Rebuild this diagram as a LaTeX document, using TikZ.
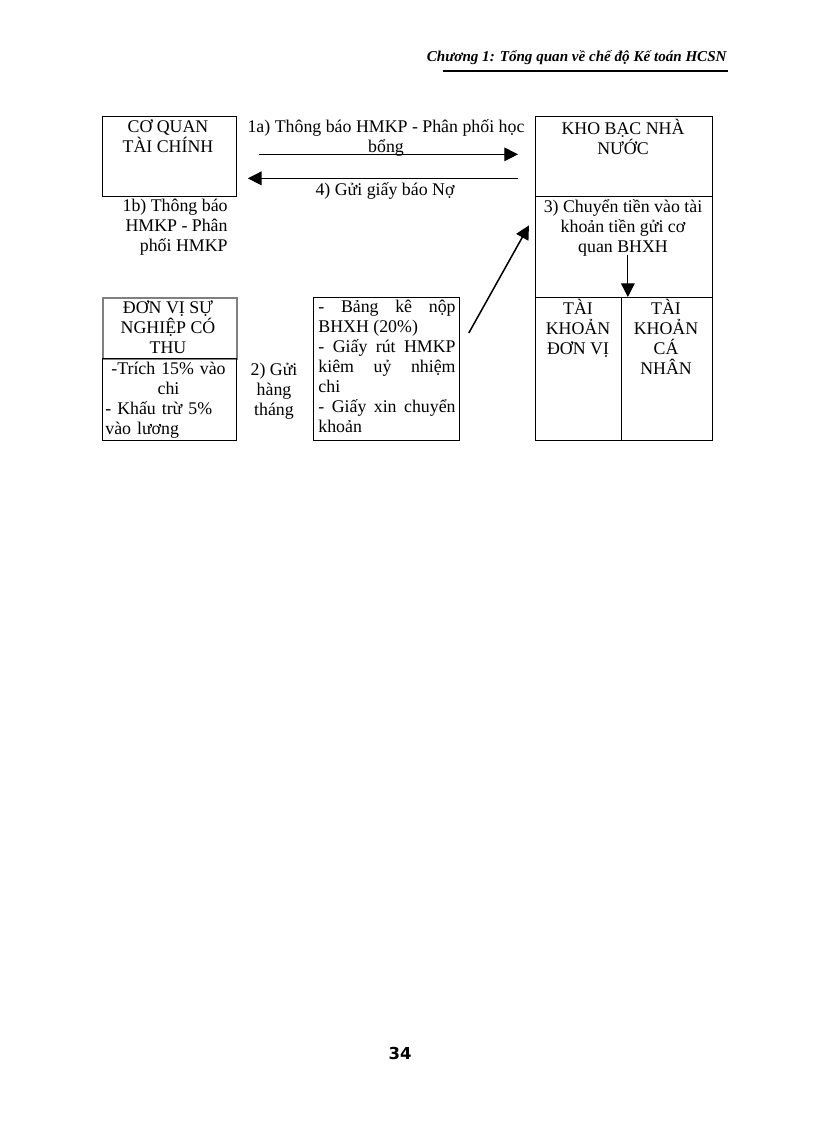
\documentclass[tikz,border=0pt]{standalone}
\usepackage{fontspec}
\setmainfont{Liberation Serif}
\newfontfamily\sofont{DejaVu Sans}
\usetikzlibrary{arrows.meta,positioning}

\begin{document}
\begin{tikzpicture}[x=0.729pt,y=-0.729pt,>={Triangle[length=10pt,width=10pt]},
		line width=0.6pt,font=\fontsize{13}{14.6}\selectfont,
		box/.style={draw,rectangle,anchor=north west,inner sep=0pt},
		txt/.style={inner sep=0pt,anchor=north,align=center},
		muiten/.style={->,line width=0.9pt}]
		\useasboundingbox (0,0) rectangle (816,1123);

		\node[inner sep=0pt,anchor=base east,font=\fontsize{11}{13}\selectfont\bfseries\itshape] (chuong) at (727,62) {Chương 1: Tổng quan về chế độ Kế toán HCSN};
		\draw[line width=2pt] (443,71) -- (728,71);

		\node[box,minimum width=97.7pt,minimum height=58.3pt] (CQ) at (102,116) {};
		\node[box,minimum width=129pt,minimum height=58.3pt] (KB) at (535,116) {};
		\node[box,minimum width=129pt,minimum height=73.6pt] (CT) at (535,196) {};
		\node[box,minimum width=62.7pt,minimum height=104.2pt] (DV) at (535,297) {};
		\node[box,minimum width=66.3pt,minimum height=104.2pt] (CN) at (621,297) {};
		\node[box,draw=gray,line width=1.2pt,minimum width=97.7pt,minimum height=44.5pt] (SN) at (102,297) {};
		\node[box,minimum width=97.7pt,minimum height=59.8pt] (SN2) at (102,358) {};
		\node[box,minimum width=106.4pt,minimum height=104.2pt] (HS) at (313,297) {};

		\node[txt] (tCQ) at (168,119) {CƠ QUAN\\TÀI CHÍNH};
		\node[txt] (tKB) at (623,119) {KHO BẠC NHÀ\\NƯỚC};
		\node[txt] (tCT) at (623,199) {3) Chuyển tiền vào tài\\khoản tiền gửi cơ\\quan BHXH};
		\node[txt] (tDV) at (578,299) {TÀI\\KHOẢN\\ĐƠN VỊ};
		\node[txt] (tCN) at (666,299) {TÀI\\KHOẢN\\CÁ\\NHÂN};
		\node[txt] (tSN) at (168,300) {ĐƠN VỊ SỰ\\NGHIỆP CÓ\\THU};
		\node[txt,anchor=north west,text width=92pt,align=left] (tSN2) at (105,362)
			{{\centering -Trích 15\% vào\\chi\par}\raggedright - Khấu trừ 5\%\\vào lương};
		\node[txt] (t2) at (274,363) {2) Gửi\\hàng\\tháng};
		\node[txt,anchor=north west,text width=100pt,align=justify] (tHS) at (318,300)
			{- Bảng kê nộp\linebreak BHXH (20\%)\\- Giấy rút HMKP\linebreak kiêm uỷ nhiệm\linebreak chi\\- Giấy xin chuyển\linebreak khoản};
		\node[txt] (t1a) at (386,119) {1a) Thông báo HMKP - Phân phối học\\bổng};
		\node[txt] (t4) at (385,182) {4) Gửi giấy báo Nợ};
		\node[txt,anchor=north east,align=right] (t1b) at (228,199) {1b) Thông báo\\HMKP - Phân\\phối HMKP};

		\node[inner sep=0pt,font=\sofont\bfseries\fontsize{12}{14}\selectfont] (trang) at (400,1053) {34};

		\draw[muiten] ([xshift=16pt,yshift=1.5pt]CQ.east) -- ([xshift=-12.4pt,yshift=1.5pt]KB.west);
		\draw[muiten] ([xshift=-12.4pt,yshift=-16pt]KB.west) -- ([xshift=8pt,yshift=-16pt]CQ.east);
		\draw[muiten,line width=1.1pt] ([xshift=6.6pt,yshift=-26.2pt]HS.north east) -- ([xshift=-4.4pt,yshift=15.7pt]CT.west);
		\draw[muiten] ([xshift=5pt,yshift=30.6pt]CN.north west) -- ([xshift=5pt]CN.north west);
	\end{tikzpicture}
\end{document}
